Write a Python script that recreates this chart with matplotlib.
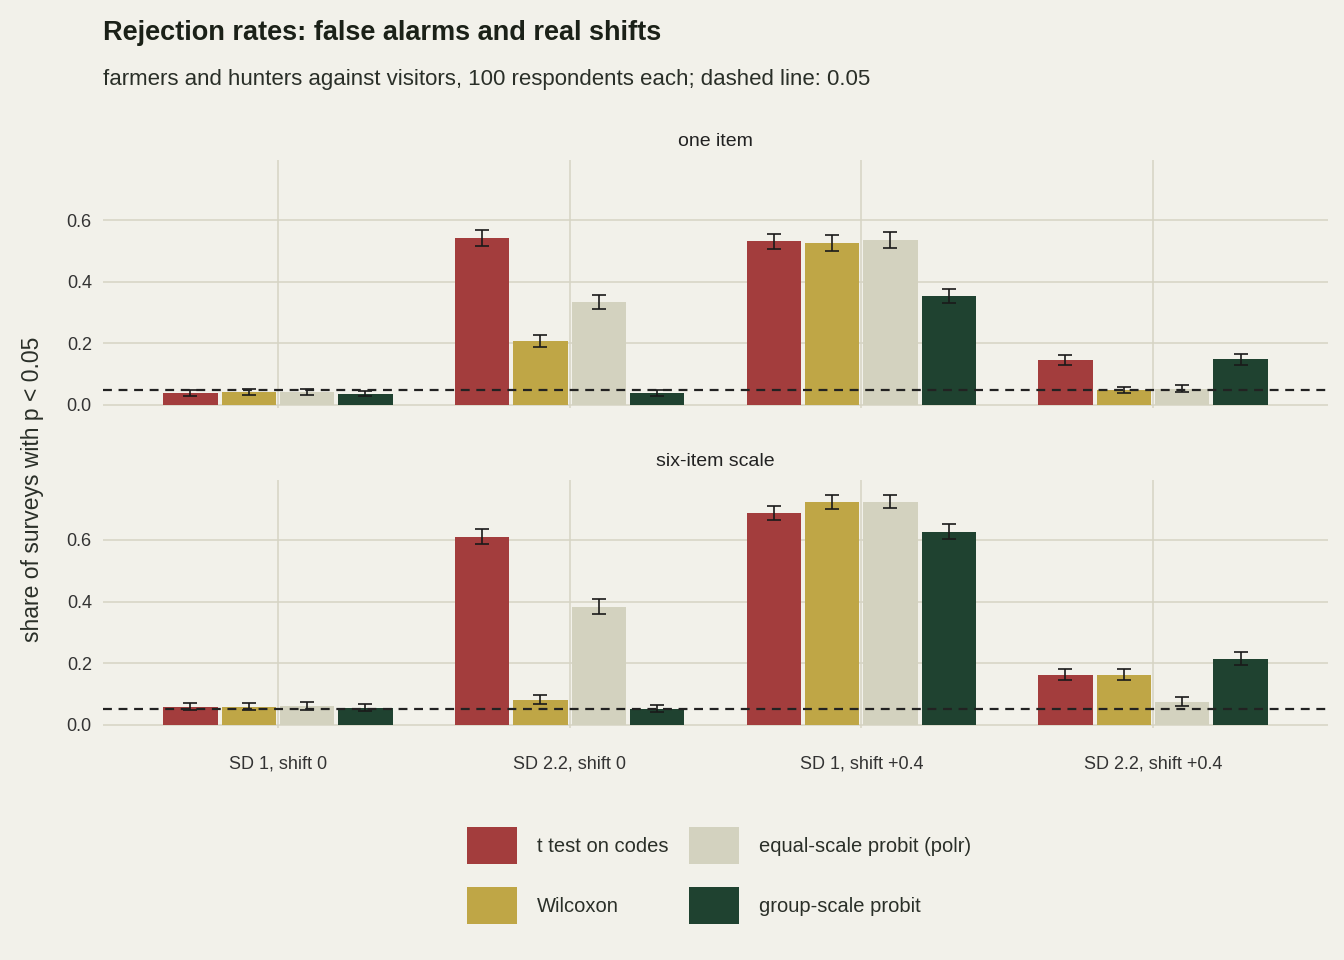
import matplotlib
matplotlib.use("Agg")
import matplotlib.pyplot as plt
import numpy as np
from matplotlib.patches import Patch

plt.rcParams['font.family'] = ['Liberation Sans', 'DejaVu Sans']

categories = ["SD 1, shift 0", "SD 2.2, shift 0", "SD 1, shift +0.4", "SD 2.2, shift +0.4"]
methods = ["t test on codes", "Wilcoxon", "equal-scale probit (polr)", "group-scale probit"]
colors = ["#A33D3D", "#BFA646", "#D3D2BF", "#1F4230"]
panels = ["one item", "six-item scale"]
one_item = {
    "t test on codes": [0.040, 0.543, 0.532, 0.146],
    "Wilcoxon": [0.043, 0.208, 0.526, 0.048],
    "equal-scale probit (polr)": [0.043, 0.334, 0.536, 0.053],
    "group-scale probit": [0.037, 0.040, 0.354, 0.148],
}
six_item = {
    "t test on codes": [0.058, 0.610, 0.688, 0.162],
    "Wilcoxon": [0.058, 0.081, 0.724, 0.162],
    "equal-scale probit (polr)": [0.060, 0.383, 0.725, 0.075],
    "group-scale probit": [0.055, 0.052, 0.627, 0.214],
}
n_sims = 400
alpha = 0.05

bg = "#F2F1EA"
grid = "#D6D4C4"
fig = plt.figure(figsize=(13.44, 9.6), dpi=100, facecolor=bg)
fig.text(0.077, 0.966, "Rejection rates: false alarms and real shifts", fontsize=19.5,
         fontweight="bold", color="#1B2118", va="center")
fig.text(0.077, 0.917, "farmers and hunters against visitors, 100 respondents each; dashed line: 0.05",
         fontsize=16, color="#2A2F28", va="center")
fig.text(0.024, 0.49, "share of surveys with p < 0.05", rotation=90, fontsize=16.5,
         color="#2A2F28", va="center", ha="center")

rects = [[0.0766, 0.575, 0.9115, 0.258], [0.0766, 0.242, 0.9115, 0.258]]
x = np.arange(1, 5)
for pi, (data, title) in enumerate(zip([one_item, six_item], panels)):
    ax = fig.add_axes(rects[pi])
    ax.set_facecolor(bg)
    for s in ax.spines.values():
        s.set_visible(False)
    ax.set_xlim(0.40, 4.60)
    ax.set_ylim(-0.01, 0.795)
    ax.set_yticks([0, 0.2, 0.4, 0.6])
    ax.set_yticklabels(["0.0", "0.2", "0.4", "0.6"])
    ax.set_xticks(x)
    ax.grid(True, color=grid, lw=1.1)
    ax.set_axisbelow(True)
    ax.tick_params(axis="y", length=0, labelsize=13, colors="#333333", pad=8)
    ax.tick_params(axis="x", length=0, labelsize=13, colors="#333333", pad=20)
    for mi, m in enumerate(methods):
        vals = np.array(data[m])
        xs = x + (mi - 1.5) * 0.2
        ax.bar(xs, vals, width=0.186, color=colors[mi], zorder=2)
        se = np.sqrt(vals * (1 - vals) / n_sims)
        ax.errorbar(xs, vals, yerr=se, fmt="none", ecolor="#1A1A1A", elinewidth=1.2,
                    capsize=5, capthick=1.2, zorder=3)
    ax.axhline(alpha, color="#222222", ls=(0, (4, 3)), lw=1.6, zorder=4)
    if pi == 0:
        ax.set_xticklabels([])
    else:
        ax.set_xticklabels(categories)
    ax.set_title(title, fontsize=14, color="#222222", pad=10)

handles = [Patch(facecolor=c) for c in colors]
fig.legend(handles, methods,
           loc="center", bbox_to_anchor=(0.535, 0.088), ncol=2, frameon=False,
           fontsize=14.5, handlelength=2.5, handleheight=2.5, columnspacing=1.0,
           handletextpad=1.0, labelspacing=1.1, labelcolor="#2A2F28")
fig.savefig("out.png", dpi=100, facecolor=bg)
